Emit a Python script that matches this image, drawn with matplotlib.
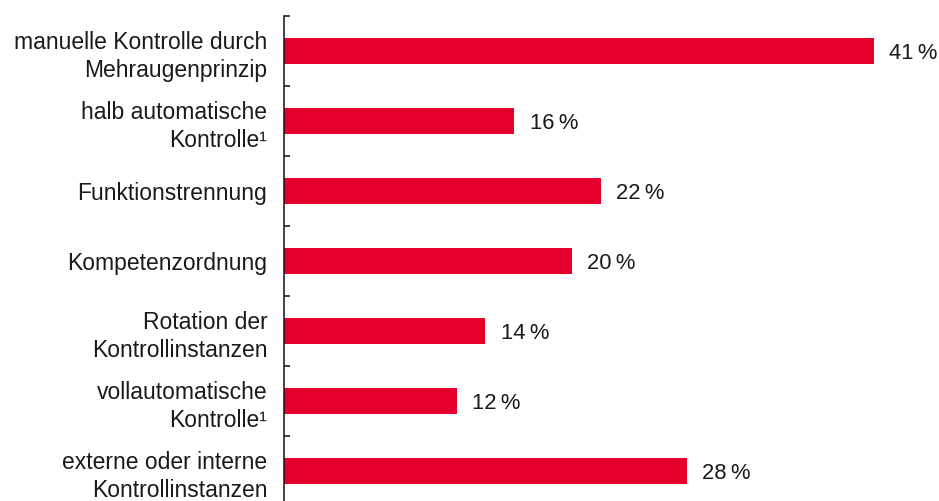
import matplotlib
matplotlib.use("Agg")
import matplotlib.pyplot as plt
from matplotlib.ticker import FixedLocator

plt.rcParams['font.family'] = ['Liberation Sans', 'DejaVu Sans']

categories = [
    "manuelle Kontrolle durch\nMehraugenprinzip",
    "halb automatische\nKontrolle\u00b9",
    "Funktionstrennung",
    "Kompetenzordnung",
    "Rotation der\nKontrollinstanzen",
    "vollautomatische\nKontrolle\u00b9",
    "externe oder interne\nKontrollinstanzen",
]
values = [41, 16, 22, 20, 14, 12, 28]

red = "#e4002b"
text_col = "#1a1a1a"

fig = plt.figure(figsize=(9.39, 5.01), dpi=100)
ax = fig.add_axes([284 / 939, 0, 1 - 284 / 939, 1 - 16 / 501])

y = list(range(len(values)))
ax.barh(y, values, height=0.37, color=red, zorder=2)

for yi, v in zip(y, values):
    ax.annotate(f"{v}\u2009%", (v, yi), xytext=(11, -1.5), textcoords="offset points",
                ha="left", va="center", fontsize=15.8, color=text_col)

ax.set_xlim(0, 655 / 14.39)
ax.set_ylim(-0.5 + 485 / 70, -0.5)

ax.set_yticks(y)
ax.set_yticklabels(categories, fontsize=16.5, color=text_col, ha="right",
                   linespacing=1.3)
ax.tick_params(axis="y", which="major", length=0, pad=12)
ax.yaxis.set_minor_locator(FixedLocator([i - 0.5 for i in range(len(values) + 1)]))
ax.tick_params(axis="y", which="minor", direction="in", length=4.5, width=1.1,
               color="#111111")

ax.set_xticks([])
for side in ["top", "right", "bottom"]:
    ax.spines[side].set_visible(False)
ax.spines["left"].set_linewidth(1.1)
ax.spines["left"].set_color("#111111")

fig.savefig("out.png", dpi=100)
